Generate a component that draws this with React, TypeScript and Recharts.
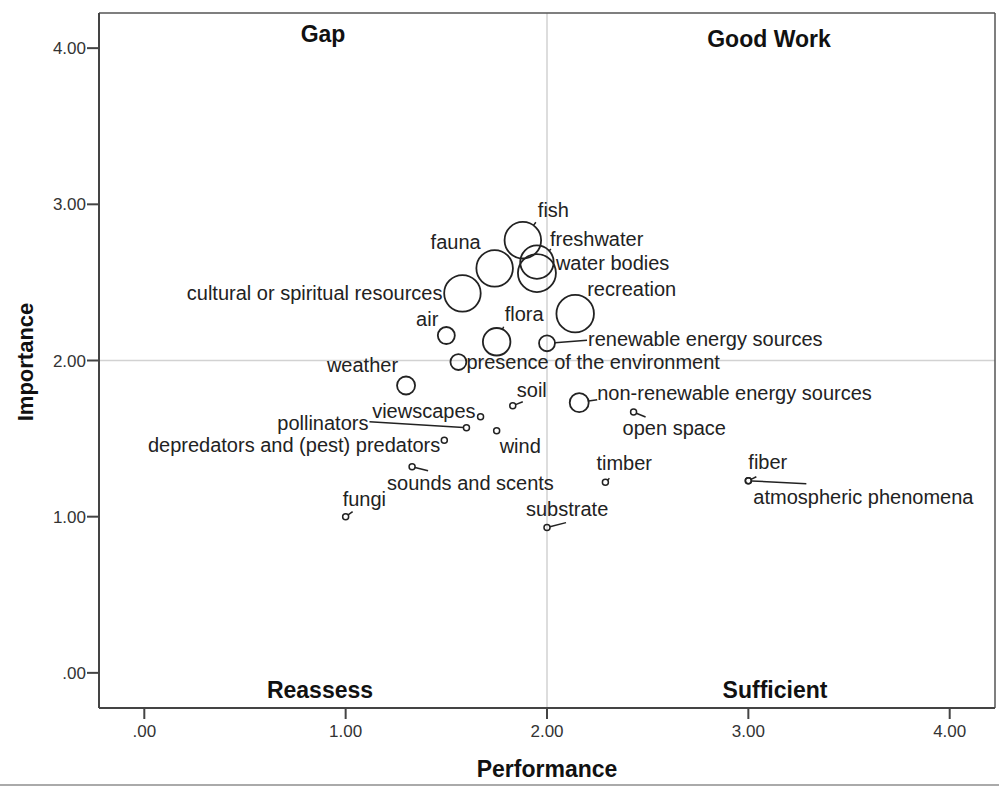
import { ScatterChart, Scatter, XAxis, YAxis, ZAxis, ReferenceLine } from 'recharts';

// ecosystem services, performance (x), importance (y), bubble weight (z)
const services = [
  'fish', 'freshwater', 'water bodies', 'fauna', 'cultural or spiritual resources', 'recreation',
  'air', 'flora', 'renewable energy sources', 'presence of the environment', 'weather', 'soil',
  'viewscapes', 'pollinators', 'wind', 'depredators and (pest) predators', 'non-renewable energy sources',
  'open space', 'sounds and scents', 'timber', 'fiber', 'atmospheric phenomena', 'fungi', 'substrate',
];
const performance = [
  1.88, 1.95, 1.95, 1.74, 1.58, 2.14,
  1.5, 1.75, 2.0, 1.56, 1.3, 1.83,
  1.67, 1.6, 1.75, 1.49, 2.16,
  2.43, 1.33, 2.29, 3.0, 3.0, 1.0, 2.0,
];
const importance = [
  2.77, 2.63, 2.56, 2.59, 2.43, 2.3,
  2.16, 2.12, 2.11, 1.99, 1.84, 1.71,
  1.64, 1.57, 1.55, 1.49, 1.73,
  1.67, 1.32, 1.22, 1.23, 1.23, 1.0, 0.93,
];
const weight = [
  37, 31, 40, 37, 37, 39,
  8, 21, 7, 7, 9, 1,
  1, 1, 1, 1, 10,
  1, 1, 1, 1, 1, 1, 1,
];
const axisTicks = [0, 1, 2, 3, 4];

// label placement (pixels relative to the point): text offset, anchor, leader line end
type Place = { dx: number; dy: number; anchor?: 'start' | 'end'; leader?: [number, number] };
const placement: Record<string, Place> = {
  'fish': { dx: 15, dy: -23, leader: [13, -18] },
  'freshwater': { dx: 13, dy: -16, leader: [14, -13] },
  'water bodies': { dx: 19, dy: -3 },
  'fauna': { dx: -14, dy: -19, anchor: 'end' },
  'cultural or spiritual resources': { dx: -20, dy: 7, anchor: 'end' },
  'recreation': { dx: 12, dy: -18 },
  'air': { dx: -8, dy: -10, anchor: 'end' },
  'flora': { dx: 8, dy: -21, leader: [7, -15] },
  'renewable energy sources': { dx: 41, dy: 3, leader: [40, -3] },
  'presence of the environment': { dx: 8, dy: 7 },
  'weather': { dx: -8, dy: -13, anchor: 'end' },
  'soil': { dx: 4, dy: -9, leader: [10, -4] },
  'viewscapes': { dx: -5, dy: 1, anchor: 'end' },
  'pollinators': { dx: -98, dy: 2, anchor: 'end', leader: [-97, -6] },
  'wind': { dx: 3, dy: 22 },
  'depredators and (pest) predators': { dx: -4, dy: 12, anchor: 'end' },
  'non-renewable energy sources': { dx: 18, dy: -3, leader: [18, -3] },
  'open space': { dx: -11, dy: 23, leader: [12, 5] },
  'sounds and scents': { dx: -25, dy: 23, leader: [16, 4] },
  'timber': { dx: -9, dy: -12, leader: [4, -4] },
  'fiber': { dx: 0, dy: -12, leader: [8, -4] },
  'atmospheric phenomena': { dx: 5, dy: 23, leader: [58, 3] },
  'fungi': { dx: -3, dy: -11, leader: [7, -5] },
  'substrate': { dx: -21, dy: -12, leader: [19, -5] },
};

const data = services.map((name, i) => ({
  name,
  x: performance[i],
  y: importance[i],
  z: weight[i],
}));

const FONT = '"Liberation Sans", Arial, sans-serif';
const INK = '#222';
const domain: [number, number] = [-0.225, 4.225];

const fmt = (v: number) => (v === 0 ? '.00' : v.toFixed(2));

const Bubble = (props: any) => {
  const { cx, cy, width, size, payload } = props;
  if (cx == null || cy == null) return <g />;
  const r = width ? width / 2 : Math.sqrt(Math.max(size || 0, 0) / Math.PI);
  const p = placement[payload.name] || { dx: r + 3, dy: 0 };
  let leader = null;
  if (p.leader) {
    const [lx, ly] = p.leader;
    const len = Math.hypot(lx, ly);
    if (len > r) {
      leader = (
        <line
          x1={cx + (lx / len) * r}
          y1={cy + (ly / len) * r}
          x2={cx + lx}
          y2={cy + ly}
          stroke={INK}
          strokeWidth={1.5}
        />
      );
    }
  }
  return (
    <g>
      <circle cx={cx} cy={cy} r={r} fill="none" stroke={INK} strokeWidth={r > 5 ? 1.8 : 1.5} />
      {leader}
      <text
        x={cx + p.dx}
        y={cy + p.dy}
        textAnchor={p.anchor || 'start'}
        fontFamily={FONT}
        fontSize={20}
        fill={INK}
      >
        {payload.name}
      </text>
    </g>
  );
};

export default function App() {
  const titleStyle = { fontFamily: FONT, fontWeight: 700, fill: '#111' } as const;
  return (
    <div style={{ position: 'absolute', left: 0, top: 0, width: 999, height: 786, background: '#fff' }}>
      <ScatterChart width={999} height={786} margin={{ top: 13, right: 4, bottom: 0, left: 0 }}>
        <XAxis
          type="number"
          dataKey="x"
          domain={domain}
          ticks={axisTicks}
          allowDataOverflow
          tickFormatter={fmt}
          height={78}
          tickSize={11}
          tickMargin={6}
          axisLine={{ stroke: '#444', strokeWidth: 2 }}
          tickLine={{ stroke: '#444', strokeWidth: 2 }}
          tick={{ fill: '#333', fontSize: 17, fontFamily: FONT }}
        />
        <YAxis
          type="number"
          dataKey="y"
          domain={domain}
          ticks={axisTicks}
          allowDataOverflow
          tickFormatter={fmt}
          width={99}
          tickSize={12}
          tickMargin={1}
          axisLine={{ stroke: '#444', strokeWidth: 2 }}
          tickLine={{ stroke: '#444', strokeWidth: 2 }}
          tick={{ fill: '#333', fontSize: 17, fontFamily: FONT }}
        />
        <ZAxis type="number" dataKey="z" domain={[0, 40]} range={[0, 1134]} />
        <ReferenceLine x={2} stroke="#d2d2d2" strokeWidth={1.5} />
        <ReferenceLine y={2} stroke="#d2d2d2" strokeWidth={1.5} />
        <ReferenceLine x={domain[1]} stroke="#555" strokeWidth={1.5} ifOverflow="visible" />
        <ReferenceLine y={domain[1]} stroke="#555" strokeWidth={1.5} ifOverflow="visible" />
        <Scatter data={data} shape={Bubble} isAnimationActive={false} />
      </ScatterChart>
      <svg
        width={999}
        height={786}
        style={{ position: 'absolute', left: 0, top: 0, pointerEvents: 'none' }}
      >
        <text x={323} y={42} textAnchor="middle" fontSize={23} {...titleStyle}>Gap</text>
        <text x={769} y={46.5} textAnchor="middle" fontSize={23} {...titleStyle}>Good Work</text>
        <text x={320} y={698} textAnchor="middle" fontSize={23} {...titleStyle}>Reassess</text>
        <text x={775} y={698} textAnchor="middle" fontSize={23} {...titleStyle}>Sufficient</text>
        <text x={547} y={776.5} textAnchor="middle" fontSize={23} {...titleStyle}>Performance</text>
        <text
          x={33}
          y={362}
          textAnchor="middle"
          fontSize={22}
          transform="rotate(-90 33 362)"
          {...titleStyle}
        >
          Importance
        </text>
        <line x1={0} y1={785} x2={999} y2={785} stroke="#aaa" strokeWidth={2} />
      </svg>
    </div>
  );
}
